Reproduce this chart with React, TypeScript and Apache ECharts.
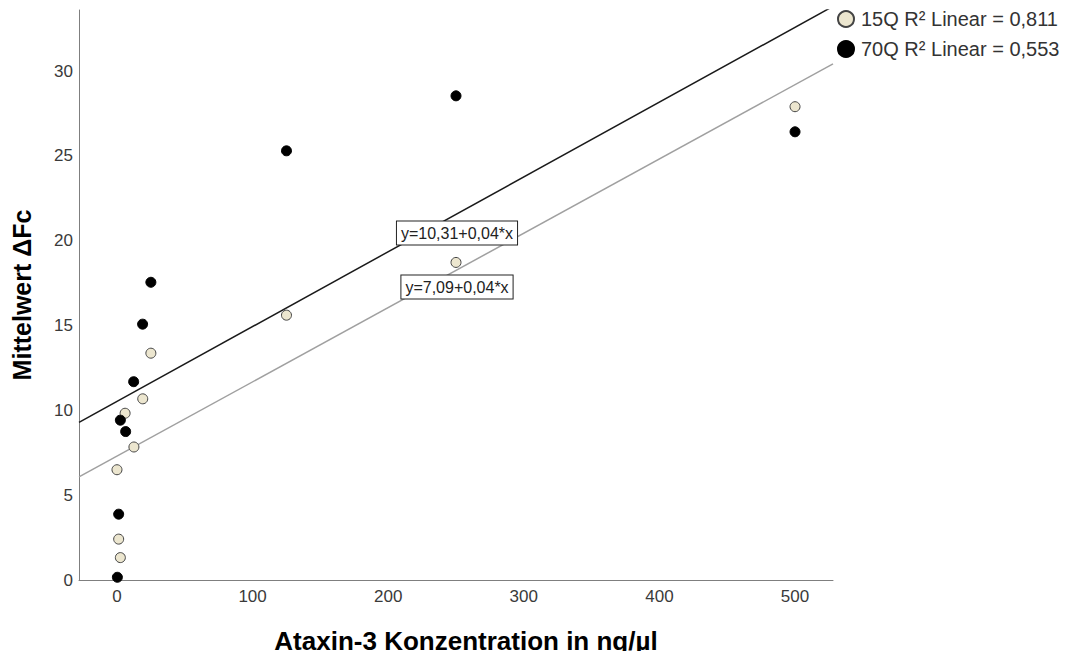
import React, { useEffect, useRef } from "react";
import * as echarts from "echarts";

const concentrations = [0, 1.25, 2.5, 6, 12.5, 19, 25, 125, 250, 500];
const values15Q = [6.5, 2.41, 1.32, 9.83, 7.84, 10.68, 13.37, 15.61, 18.72, 27.9];
const concentrations70Q = [0.3, 1.25, 2.5, 6.4, 12.3, 18.9, 25, 125, 250, 500];
const values70Q = [0.16, 3.88, 9.42, 8.75, 11.69, 15.08, 17.55, 25.3, 28.54, 26.42];

const seriesNames = ["15Q R² Linear = 0,811", "70Q R² Linear = 0,553"];
const fitIntercepts = [7.3, 10.53];
const fitSlopes = [0.0438, 0.0441];
const equationLabels = ["y=7,09+0,04*x", "y=10,31+0,04*x"];

const X_MIN = -28;
const X_MAX = 528;
const Y_MIN = 0;
const Y_MAX = 33.6;

const xTickLabels = [0, 100, 200, 300, 400, 500];
const yTickLabels = [0, 5, 10, 15, 20, 25, 30];

const FONT = "'Liberation Sans', Arial, sans-serif";

export default function App() {
  const ref = useRef<HTMLDivElement>(null);

  useEffect(() => {
    if (!ref.current) return;
    const chart = echarts.init(ref.current, undefined, { renderer: "svg" });

    const fitLine = (i: number) => [
      [X_MIN, fitIntercepts[i] + fitSlopes[i] * X_MIN],
      [X_MAX, fitIntercepts[i] + fitSlopes[i] * X_MAX],
    ];

    chart.setOption({
      animation: false,
      backgroundColor: "#ffffff",
      grid: { left: 79, right: 237, top: 10, bottom: 77, containLabel: false },
      legend: {
        data: seriesNames,
        orient: "vertical",
        left: 832,
        top: 4,
        itemWidth: 20,
        itemHeight: 16,
        itemGap: 10,
        icon: "circle",
        textStyle: { fontFamily: FONT, fontSize: 20, color: "#333" },
      },
      xAxis: {
        type: "value",
        min: X_MIN,
        max: X_MAX,
        name: "Ataxin-3 Konzentration in ng/µl",
        nameLocation: "middle",
        nameGap: 48,
        nameTextStyle: {
          fontFamily: FONT,
          fontSize: 26,
          fontWeight: "bold",
          color: "#000",
          padding: [0, 0, 0, 20],
        },
        axisLine: { show: true, onZero: false, lineStyle: { color: "#7f7f7f", width: 1 } },
        axisTick: { show: false },
        splitLine: { show: false },
        axisLabel: {
          fontFamily: FONT,
          fontSize: 17,
          color: "#3a3a3a",
          margin: 8,
          formatter: (v: number) => (xTickLabels.includes(v) ? String(v) : ""),
        },
      },
      yAxis: {
        type: "value",
        min: Y_MIN,
        max: Y_MAX,
        interval: 5,
        name: "Mittelwert ΔFc",
        nameLocation: "middle",
        nameGap: 45,
        nameTextStyle: {
          fontFamily: FONT,
          fontSize: 25,
          fontWeight: "bold",
          color: "#000",
        },
        axisLine: { show: true, onZero: false, lineStyle: { color: "#7f7f7f", width: 1 } },
        axisTick: { show: false },
        splitLine: { show: false },
        axisLabel: {
          fontFamily: FONT,
          fontSize: 17,
          color: "#3a3a3a",
          margin: 6,
          formatter: (v: number) => (yTickLabels.includes(v) ? String(v) : ""),
        },
      },
      series: [
        {
          name: "fit15Q",
          type: "line",
          data: fitLine(0),
          showSymbol: false,
          clip: true,
          lineStyle: { color: "#a0a0a0", width: 1.5 },
          z: 1,
        },
        {
          name: "fit70Q",
          type: "line",
          data: fitLine(1),
          showSymbol: false,
          clip: true,
          lineStyle: { color: "#1a1a1a", width: 1.5 },
          z: 1,
        },
        {
          name: seriesNames[0],
          type: "scatter",
          data: concentrations.map((x, i) => [x, values15Q[i]]),
          symbolSize: 10,
          itemStyle: { color: "#ece6cf", borderColor: "#444", borderWidth: 1, opacity: 1 },
          z: 3,
        },
        {
          name: seriesNames[1],
          type: "scatter",
          data: concentrations70Q.map((x, i) => [x, values70Q[i]]),
          symbolSize: 10,
          itemStyle: { color: "#000000", borderColor: "#000000", borderWidth: 1, opacity: 1 },
          z: 3,
        },
      ],
      graphic: [
        {
          type: "text",
          x: 457,
          y: 233,
          z: 10,
          style: {
            text: equationLabels[1],
            fontFamily: FONT,
            fontSize: 16,
            fill: "#222",
            align: "center",
            verticalAlign: "middle",
            backgroundColor: "#fff",
            borderColor: "#222",
            borderWidth: 1,
            padding: [4, 4, 3, 4],
          },
        },
        {
          type: "text",
          x: 457,
          y: 287,
          z: 10,
          style: {
            text: equationLabels[0],
            fontFamily: FONT,
            fontSize: 16,
            fill: "#222",
            align: "center",
            verticalAlign: "middle",
            backgroundColor: "#fff",
            borderColor: "#222",
            borderWidth: 1,
            padding: [4, 4, 3, 4],
          },
        },
      ],
    });

    return () => chart.dispose();
  }, []);

  return <div ref={ref} style={{ width: 1070, height: 659, margin: -8 }} />;
}
